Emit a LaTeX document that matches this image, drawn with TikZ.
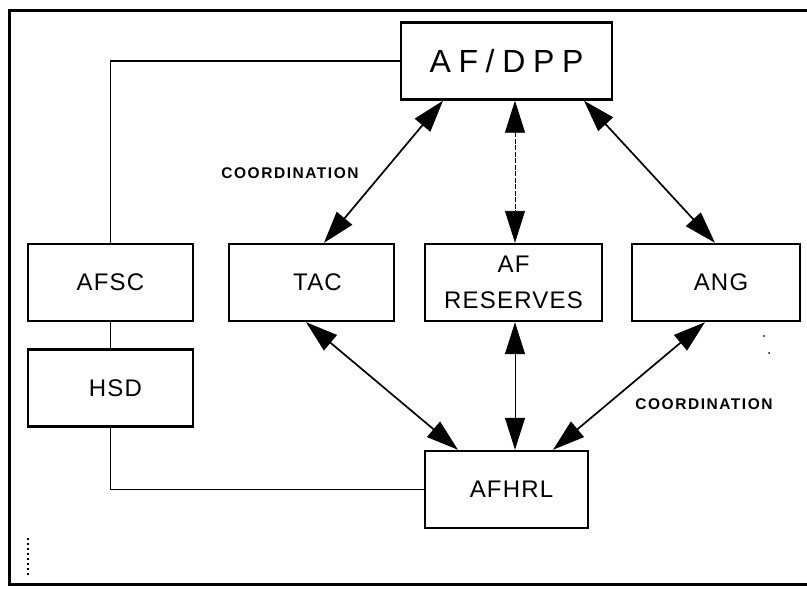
\documentclass[tikz,border=0pt]{standalone}
\usepackage{fontspec}
\setmainfont{Liberation Sans}
\newfontfamily\boxfont[LetterSpace=5]{Liberation Sans}
\newfontfamily\topfont[LetterSpace=24]{Liberation Sans}
\newfontfamily\notefont[LetterSpace=10]{Liberation Sans}
\usepackage{tikz}
\usetikzlibrary{arrows.meta, positioning}
\tikzstyle{unit} = [rectangle, draw=black, line width=2.4pt, minimum height=77pt, align=center, font=\boxfont\fontsize{24}{36}\selectfont]
\tikzstyle{arrow} = [line width=1.7pt, <->, >={Triangle[length=32pt,width=20pt]}]
\tikzstyle{link} = [line width=1.6pt]
\tikzstyle{note} = [font=\notefont\bfseries\fontsize{15.5}{17}\selectfont]

\begin{document}
\begin{tikzpicture}[x=1pt, y=-1pt]
    \useasboundingbox (0,0) rectangle (807,589);
    % frame
    \draw [line width=3pt] (807,10) -- (9,10) -- (9,584) -- (807,584);
    % boxes
    \node (dpp) [unit, minimum width=211pt, font=\topfont\fontsize{32}{36}\selectfont] at (506.5,61) {\raisebox{-4pt}{AF/DPP}};
    \node (afsc) [unit, minimum width=165pt] at (110.5,282.5) {AFSC};
    \node (tac) [unit, minimum width=165pt] at (311.5,282.5) {\hspace*{12pt}TAC};
    \node (res) [unit, minimum width=177pt] at (513.5,282.5) {AF\\RESERVES};
    \node (ang) [unit, minimum width=168pt] at (716,282.5) {\hspace*{10pt}ANG};
    \node (hsd) [unit, minimum width=165pt, below=26pt of afsc] {\hspace*{10pt}HSD};
    \node (afhrl) [unit, minimum width=163pt] at (506.5,489.5) {\hspace*{10pt}AFHRL};
    % lines
    \draw [link] (dpp.west) -| (afsc.north);
    \draw [link] (afsc.south) -- (hsd.north);
    \draw [link] (hsd.south) |- (afhrl.west);
    % arrows
    \draw [arrow] ([xshift=-63.5pt]dpp.south) -- ([xshift=12.5pt]tac.north);
    \draw [arrow, line width=0.9pt, dash pattern=on 5pt off 1.5pt] ([xshift=8.5pt]dpp.south) -- ([xshift=1.5pt]res.north);
    \draw [arrow] ([xshift=77.5pt]dpp.south) -- ([xshift=-1pt]ang.north);
    \draw [arrow] ([xshift=-5.5pt]tac.south) -- ([xshift=-48.5pt]afhrl.north);
    \draw [arrow, line width=1pt] ([xshift=1.5pt]res.south) -- ([xshift=8.5pt]afhrl.north);
    \draw [arrow] ([xshift=-11pt]ang.south) -- ([xshift=46.5pt]afhrl.north);
    % labels
    \node (coordtop) [note] at (290,173) {COORDINATION};
    \node (coordbot) [note] at (704,404) {COORDINATION};
    % specks
    \fill (764,336) circle (1pt);
    \fill (769,353) circle (1pt);
    \draw [line width=1.2pt, dash pattern=on 2pt off 3pt] (28,538) -- (28,575);
\end{tikzpicture}
\end{document}
